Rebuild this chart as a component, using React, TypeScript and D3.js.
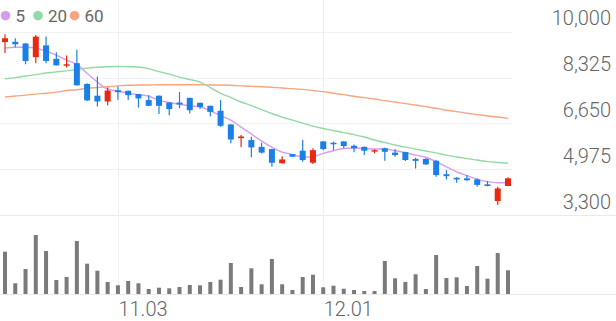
import React from "react";
import * as d3 from "d3";

const dates = [
  "10.17","10.20","10.21","10.22","10.23","10.24","10.27","10.28","10.29","10.30",
  "10.31","11.03","11.04","11.05","11.06","11.07","11.10","11.11","11.12","11.13",
  "11.14","11.17","11.18","11.19","11.20","11.21","11.24","11.25","11.26","11.27",
  "11.28","12.01","12.02","12.03","12.04","12.05","12.08","12.09","12.10","12.11",
  "12.12","12.15","12.16","12.17","12.18","12.19","12.22","12.23","12.24","12.26",
];

const open = [
  9620,9630,9570,9070,9500,9010,8770,8850,8090,7660,
  7450,7860,7840,7720,7500,7660,7410,7410,7580,7400,
  7290,7110,6610,6110,6040,5790,5710,5190,5520,5650,
  5210,5990,5940,5990,5830,5790,5640,5740,5580,5600,
  5350,5350,5280,4790,4660,4640,4600,4420,3810,4360,
];
const high = [
  9910,9760,9580,9880,9820,9250,9130,9340,8120,8360,
  7960,8000,7850,7730,7680,7670,7420,7800,7590,7410,
  7300,7500,6620,6220,6160,5940,5720,5450,5530,6040,
  5740,6000,5980,6000,5880,5800,5700,5760,5710,5610,
  5390,5370,5310,4940,4680,4760,4640,4540,4330,4680,
];
const low = [
  9220,9430,8810,8850,8850,8760,8690,8030,7470,7270,
  7310,7510,7500,7230,7280,6990,6950,7200,7010,7170,
  6910,6520,5920,5790,5410,5550,5060,5180,5420,5250,
  5160,5670,5670,5740,5590,5490,5550,5280,5430,5270,
  5000,5130,4700,4600,4480,4550,4330,4350,3670,4350,
];
const close = [
  9760,9540,8930,9820,8930,8770,8810,8040,7490,7450,
  7850,7790,7680,7560,7290,7290,7170,7340,7130,7250,
  7070,6560,6060,6170,5770,5580,5210,5330,5430,5310,
  5670,5710,5890,5820,5740,5650,5670,5610,5490,5310,
  5280,5150,4760,4720,4600,4570,4400,4360,4270,4640,
];
const volume = [
  423,107,250,590,430,140,170,530,303,233,
  120,87,130,107,50,63,57,70,90,87,
  120,143,310,70,257,97,350,97,40,170,
  193,67,83,53,40,30,30,330,157,120,
  197,50,390,160,167,80,280,153,410,237,
];
const ma5 = [
  9400,9430,9430,9400,9290,9140,8960,8810,8480,8160,
  7900,7830,7750,7700,7640,7500,7410,7350,7290,7250,
  7110,6930,6770,6510,6260,6000,5780,5600,5510,5420,
  5440,5550,5650,5730,5750,5730,5710,5710,5650,5580,
  5490,5410,5250,5060,4880,4740,4600,4520,4480,4480,
];
const ma20 = [
  8280,8320,8380,8430,8490,8530,8570,8620,8670,8700,
  8720,8730,8720,8710,8650,8540,8450,8340,8250,8160,
  7960,7750,7590,7430,7300,7150,7010,6880,6770,6660,
  6550,6460,6390,6310,6240,6150,6040,5950,5860,5780,
  5710,5640,5570,5490,5420,5360,5310,5250,5220,5190,
];
const ma60 = [
  7610,7650,7680,7720,7750,7790,7850,7880,7930,7960,
  7990,8020,8040,8050,8050,8060,8060,8060,8060,8060,
  8050,8050,8040,8020,8000,7990,7970,7940,7920,7890,
  7850,7810,7750,7700,7640,7590,7540,7480,7430,7370,
  7320,7260,7200,7130,7080,7020,6970,6920,6880,6830,
];
const priceTicks = [3300, 4975, 6650, 8325, 10000];
const dateTicks = ["11.03", "12.01"];
const legendItems = ["5", "20", "60"];

const W = 616;
const H = 321;
const UP = "#e8290f";
const DOWN = "#1b7fe8";
const MA_COLORS = ["#d59cf0", "#93d9a3", "#f7a47f"];
const FONT = "Roboto, 'Noto Sans', sans-serif";

export default function App() {
  const x = d3.scalePoint<string>().domain(dates).range([5, 508]);
  const y = d3.scaleLinear().domain([3300, 10000]).range([215, 31.7]);
  const vy = d3.scaleLinear().domain([0, 590]).range([294, 235]);
  const fmt = d3.format(",");
  const mas = [ma5, ma20, ma60];
  const lineGen = (arr: number[]) =>
    d3
      .line<number>()
      .x((_, i) => x(dates[i]) as number)
      .y((v) => y(v))
      .curve(d3.curveMonotoneX)(arr) as string;

  const bodyW = 6;
  const volW = 4;

  return (
    <svg
      width={W}
      height={H}
      style={{ position: "fixed", left: 0, top: 0, background: "#fff" }}
      fontFamily={FONT}
    >
      <rect x={0} y={0} width={W} height={H} fill="#fff" />
      {/* horizontal grid */}
      {priceTicks.map((t) => (
        <line
          key={"g" + t}
          x1={0}
          x2={t === 3300 ? W : 512}
          y1={Math.round(y(t)) + 0.5}
          y2={Math.round(y(t)) + 0.5}
          stroke={t === 3300 ? "#e9e9e9" : "#f1f1f1"}
          strokeWidth={1}
        />
      ))}
      {/* vertical grid */}
      {dateTicks.map((d) => (
        <line
          key={"v" + d}
          x1={Math.round(x(d) as number) + 0.5}
          x2={Math.round(x(d) as number) + 0.5}
          y1={0}
          y2={294}
          stroke="#efefef"
          strokeWidth={1}
        />
      ))}
      {/* volume baseline */}
      <line x1={0} x2={W} y1={294.5} y2={294.5} stroke="#e9e9e9" strokeWidth={1} />
      {/* volume bars */}
      {volume.map((v, i) => (
        <rect
          key={"vol" + i}
          x={(x(dates[i]) as number) - volW / 2}
          y={vy(v)}
          width={volW}
          height={294 - vy(v)}
          fill="#7a7a7a"
        />
      ))}
      {/* MA lines */}
      {mas
        .map((arr, k) => (
          <path
            key={"ma" + k}
            d={lineGen(arr)}
            fill="none"
            stroke={MA_COLORS[k]}
            strokeWidth={1.4}
          />
        ))
        .reverse()}
      {/* candles */}
      {dates.map((d, i) => {
        const cx = x(d) as number;
        const up = close[i] >= open[i];
        const col = up ? UP : DOWN;
        const top = y(Math.max(open[i], close[i]));
        const bot = y(Math.min(open[i], close[i]));
        return (
          <g key={"c" + i}>
            <line
              x1={cx}
              x2={cx}
              y1={y(high[i])}
              y2={y(low[i])}
              stroke={col}
              strokeWidth={1.2}
            />
            <rect
              x={cx - bodyW / 2}
              y={top}
              width={bodyW}
              height={Math.max(1.5, bot - top)}
              fill={col}
            />
          </g>
        );
      })}
      {/* y labels */}
      {priceTicks.map((t) => (
        <text
          key={"yl" + t}
          x={611}
          y={y(t) - 6.5}
          textAnchor="end"
          fontSize={20}
          fontWeight={300}
          fill="#666"
        >
          {fmt(t)}
        </text>
      ))}
      {/* x labels */}
      {dateTicks.map((d) => (
        <text
          key={"xl" + d}
          x={(x(d) as number) + 0.5}
          y={316}
          textAnchor="start"
          fontSize={20}
          fontWeight={300}
          fill="#666"
        >
          {d}
        </text>
      ))}
      {/* legend */}
      {legendItems.map((lbl, k) => {
        const cxs = [5.5, 38, 74.5];
        return (
          <g key={"lg" + k}>
            <circle cx={cxs[k]} cy={15.7} r={4.8} fill={MA_COLORS[k]} />
            <text x={cxs[k] + 10} y={22} fontSize={17} fill="#666">
              {lbl}
            </text>
          </g>
        );
      })}
    </svg>
  );
}
